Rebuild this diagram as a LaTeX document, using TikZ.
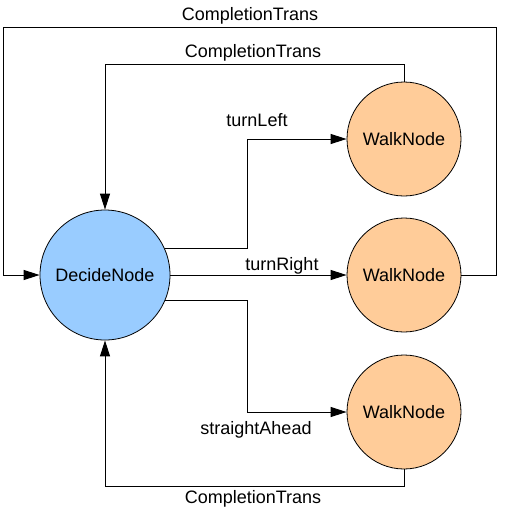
\documentclass[tikz,border=0pt]{standalone}
\usepackage{fontspec}
\setmainfont{Liberation Sans}
\usetikzlibrary{arrows.meta}
\definecolor{decidefill}{HTML}{99CCFF}
\definecolor{walkfill}{HTML}{FFCC99}
\begin{document}
\begin{tikzpicture}[x=1pt,y=-1pt,
  every node/.style={font=\fontsize{18}{20}\selectfont},
  decide/.style={circle,draw=black,line width=0.8pt,fill=decidefill,minimum size=130pt,inner sep=0pt},
  walk/.style={circle,draw=black,line width=0.8pt,fill=walkfill,minimum size=114pt,inner sep=0pt},
  conn/.style={draw=black,line width=1pt,-{Triangle[length=16pt,width=10pt]}},
  lbl/.style={inner sep=0pt,anchor=center}]
\useasboundingbox (0,0) rectangle (504,528);
\node[decide] (d) at (105,275) {DecideNode};
\node[walk] (w1) at (404,139) {WalkNode};
\node[walk] (w2) at (404,275) {WalkNode};
\node[walk] (w3) at (404,412) {WalkNode};
\coordinate (o1) at (496,27);
\coordinate (o2) at (3,27);
\coordinate (c2) at (105,64);
\coordinate (c3) at (247,139);
\coordinate (c4) at (247,412);
\coordinate (c5) at (105,486);
\draw[conn] (w2.east) -| (o1) -- (o2) |- (d.west);
\draw[conn] (w1.north) |- (c2) -- (d.north);
\draw[conn] (d.24.5) -| (c3) -- (w1.west);
\draw[conn] (d.east) -- (w2.west);
\draw[conn] (d.-23.6) -| (c4) -- (w3.west);
\draw[conn] (w3.south) |- (c5) -- (d.south);
\node[lbl] (l1) at (250,16) {CompletionTrans};
\node[lbl] (l2) at (253,53) {CompletionTrans};
\node[lbl] (l3) at (257,120) {turnLeft};
\node[lbl] (l4) at (282,266) {turnRight};
\node[lbl] (l5) at (256,430) {straightAhead};
\node[lbl] (l6) at (253,499) {CompletionTrans};
\end{tikzpicture}
\end{document}
